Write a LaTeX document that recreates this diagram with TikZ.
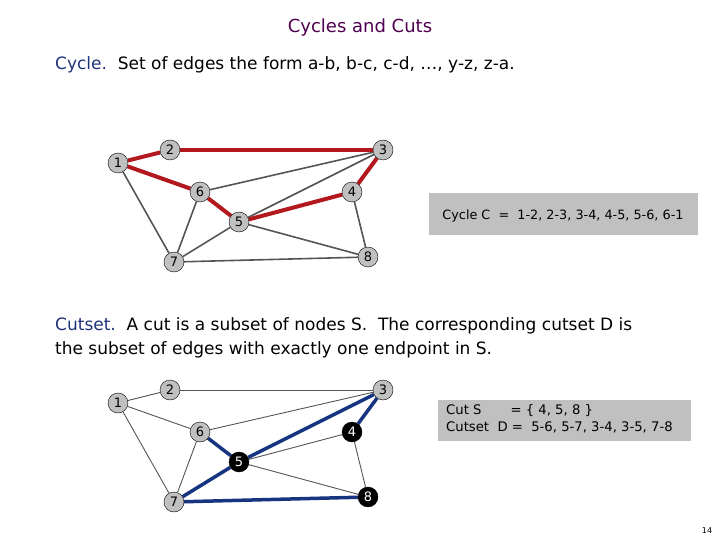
\documentclass[tikz,border=0pt]{standalone}
\usepackage{fontspec}
\setmainfont{DejaVu Sans}
\usepackage{tikz}
\usetikzlibrary{positioning,backgrounds}
\definecolor{cycred}{RGB}{178,24,30}
\definecolor{cutblue}{RGB}{22,52,128}
\definecolor{titlepurple}{RGB}{80,0,80}
\definecolor{termblue}{RGB}{30,50,120}
\definecolor{nodegray}{RGB}{192,192,192}
\definecolor{edgegray}{RGB}{85,85,85}
\tikzset{
  vtx/.style   = {draw, circle, fill=nodegray, minimum size=20pt,
                  inner sep=0pt, font=\fontsize{13}{13}\selectfont},
  invtx/.style = {vtx, fill=black, text=white},
  edg/.style   = {draw=edgegray, line width=1.6pt},
  edgthin/.style = {draw=edgegray, line width=0.9pt},
  cyc/.style   = {draw=cycred, line width=4pt},
  cut/.style   = {draw=cutblue, line width=3.5pt},
  boxtxt/.style = {font=\fontsize{13.2}{17}\selectfont, inner sep=0pt},
  body/.style  = {anchor=base west, font=\fontsize{17}{18}\selectfont, inner sep=0pt},
}

\begin{document}
\begin{tikzpicture}[x=1pt, y=-1pt]
\useasboundingbox (0,0) rectangle (720,540);

% --- headings ---
\node[font=\fontsize{18}{18}\selectfont, text=titlepurple] (title) at (360,28) {Cycles and Cuts};
\node[body] (cycdef) at (55,70)
     {\textcolor{termblue}{Cycle.}\ \ Set of edges the form a-b, b-c, c-d, \dots, y-z, z-a.};
\node[body] (cutdef1) at (55,330)
     {\textcolor{termblue}{Cutset.}\ \ A cut is a subset of nodes S.\ \ The corresponding cutset D is};
\node[body] (cutdef2) at (55,354)
     {the subset of edges with exactly one endpoint in S.};

% --- upper graph: a cycle ---
\node[vtx] (a1) at (118,163) {1};
\node[vtx] (a2) at (170,150) {2};
\node[vtx] (a3) at (383,150) {3};
\node[vtx] (a4) at (352,192) {4};
\node[vtx] (a5) at (239,222) {5};
\node[vtx] (a6) at (200,192) {6};
\node[vtx] (a7) at (174,262) {7};
\node[vtx] (a8) at (368,257) {8};

\begin{scope}[on background layer]
  \foreach \u/\v in {6/3, 3/5, 1/7, 6/7, 5/7, 5/8, 4/8, 7/8}
    \draw[edg] (a\u) -- (a\v);
  \foreach \u/\v in {1/2, 2/3, 3/4, 4/5, 5/6, 6/1}
    \draw[cyc] (a\u) -- (a\v);
\end{scope}

\fill[nodegray] (429,193) rectangle (698,235);
\node[boxtxt, font=\fontsize{12.8}{17}\selectfont] (cyclist) at (563,216)
     {Cycle C \ = \ 1-2, 2-3, 3-4, 4-5, 5-6, 6-1};

% --- lower graph: a cutset ---
\node[vtx] (b1) at (118,403) {1};
\node[vtx] (b2) at (170,390) {2};
\node[vtx] (b3) at (383,390) {3};
\node[invtx] (b4) at (352,432) {4};
\node[invtx] (b5) at (239,462) {5};
\node[vtx] (b6) at (200,432) {6};
\node[vtx] (b7) at (174,502) {7};
\node[invtx] (b8) at (368,497) {8};

\begin{scope}[on background layer]
  \foreach \u/\v in {1/2, 2/3, 1/6, 6/3, 4/5, 1/7, 6/7, 5/8, 4/8}
    \draw[edgthin] (b\u) -- (b\v);
  \foreach \u/\v in {5/6, 5/7, 3/4, 3/5, 7/8}
    \draw[cut] (b\u) -- (b\v);
\end{scope}

\fill[nodegray] (438,400) rectangle (691,441);
\node[boxtxt, align=left, anchor=west] (cutlist) at (446,419)
     {Cut S\hspace{2.2em}= \{ 4, 5, 8 \}\\Cutset\ \ D =\ \ 5-6, 5-7, 3-4, 3-5, 7-8};

\node[font=\fontsize{8}{8}\selectfont] (pageno) at (707,531) {14};
\end{tikzpicture}
\end{document}
